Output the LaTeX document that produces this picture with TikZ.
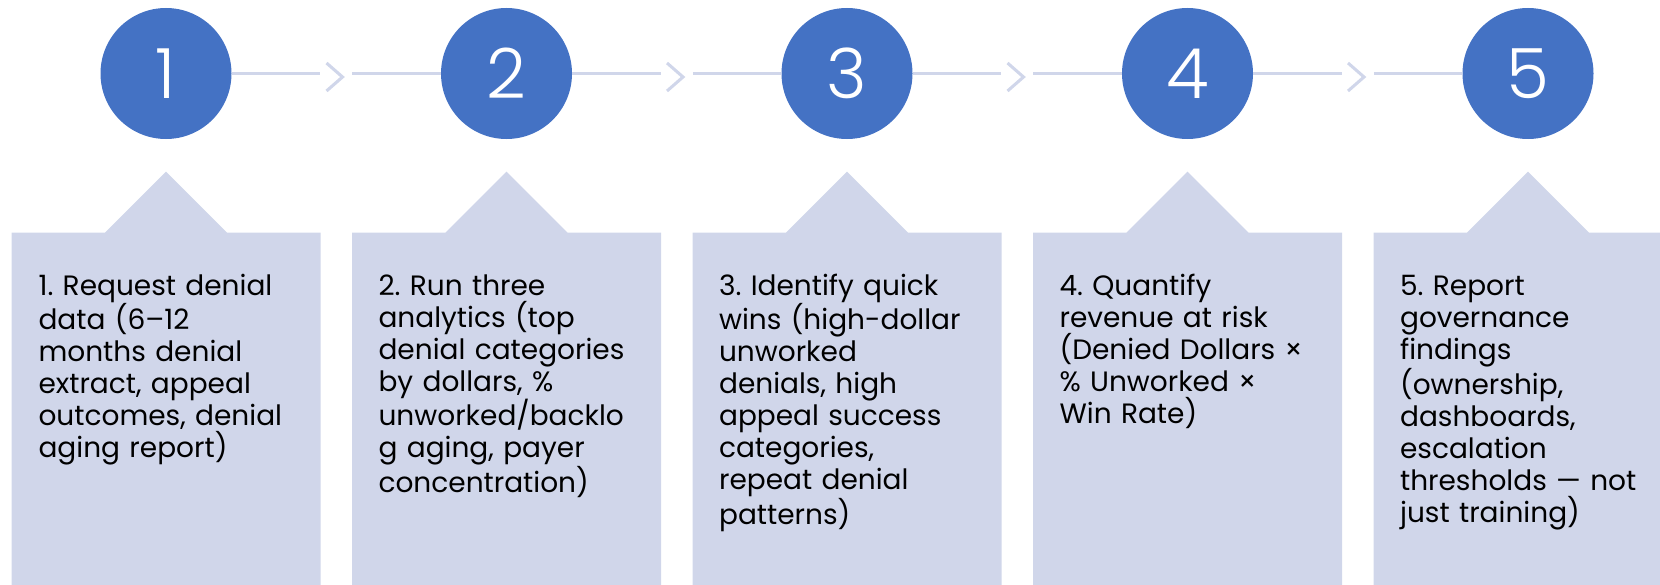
\documentclass[tikz,border=0pt]{standalone}
\usepackage{fontspec}
\setmainfont{Poppins}
\newfontfamily\lightfont{Poppins}[UprightFont=* Light]
\usetikzlibrary{positioning}
\frenchspacing

\definecolor{stepblue}{HTML}{4472C4}
\definecolor{paleblue}{HTML}{D0D6EA}

\begin{document}
\begin{tikzpicture}[x=0.75pt,y=-0.75pt]

		% Styles: numbered discs, links and text cards
		\tikzstyle{num node}=[circle,fill=stepblue,minimum size=98.25pt,inner sep=0,text=white,font=\lightfont\fontsize{52}{52}\selectfont];
		\tikzstyle{link}=[draw=paleblue,line width=2pt];
		\tikzstyle{chevron}=[draw=paleblue,line width=2.3pt];
		\tikzstyle{card}=[fill=paleblue];
		\tikzstyle{card text}=[anchor=base west,inner sep=0,text width=240pt,align=left,font=\fontsize{21}{24}\selectfont];

		\useasboundingbox (0,0) rectangle (1660,585);
		\clip (0,0) rectangle (1660,585);

		% Cards with a pointer under each step
		\foreach \i in {0,...,4}
		\fill[card] ({11.7+340.5*\i},232.7) -- ++(93.3,0) -- ++(61,-61) -- ++(61,61)
			-- ++(93.7,0) -- ++(0,380) -- ++(-309,0) -- cycle;

		% The steps
		\foreach \i in {1,...,5}
		\node[num node] (c\i) at ({166+340.5*(\i-1)},73.5) {\i};

		% Links between the steps
		\foreach \i/\j in {1/2,2/3,3/4,4/5}{
			\coordinate (a\i) at ({166+340.5*(\i-1)+154},73.5);
			\coordinate (b\i) at ({166+340.5*(\i-1)+186.3},73.5);
			\draw[link] (c\i.east) -- (a\i);
			\draw[chevron] ({166+340.5*(\i-1)+160.5},63) -- ++(16,14) -- ++(-16,14);
			\draw[link] (b\i) -- (c\j.west);
		}

		% Card texts
		\node[card text] (t1) at (38.3,295) {1. Request denial\\data (6–12\\months denial\\extract, appeal\\outcomes, denial\\aging report)};
		\node[card text] (t2) at (378.3,295) {2. Run three\\analytics (top\\denial categories\\by dollars, \%\\unworked/backlo\\g aging, payer\\concentration)};
		\node[card text] (t3) at (718.8,295) {3. Identify quick\\wins (high-dollar\\unworked\\denials, high\\appeal success\\categories,\\repeat denial\\patterns)};
		\node[card text] (t4) at (1059.3,295) {4. Quantify\\revenue at risk\\(Denied Dollars ×\\\% Unworked ×\\Win Rate)};
		\node[card text] (t5) at (1399.8,295) {5. Report\\governance\\findings\\(ownership,\\dashboards,\\escalation\\thresholds — not\\just training)};

\end{tikzpicture}
\end{document}
